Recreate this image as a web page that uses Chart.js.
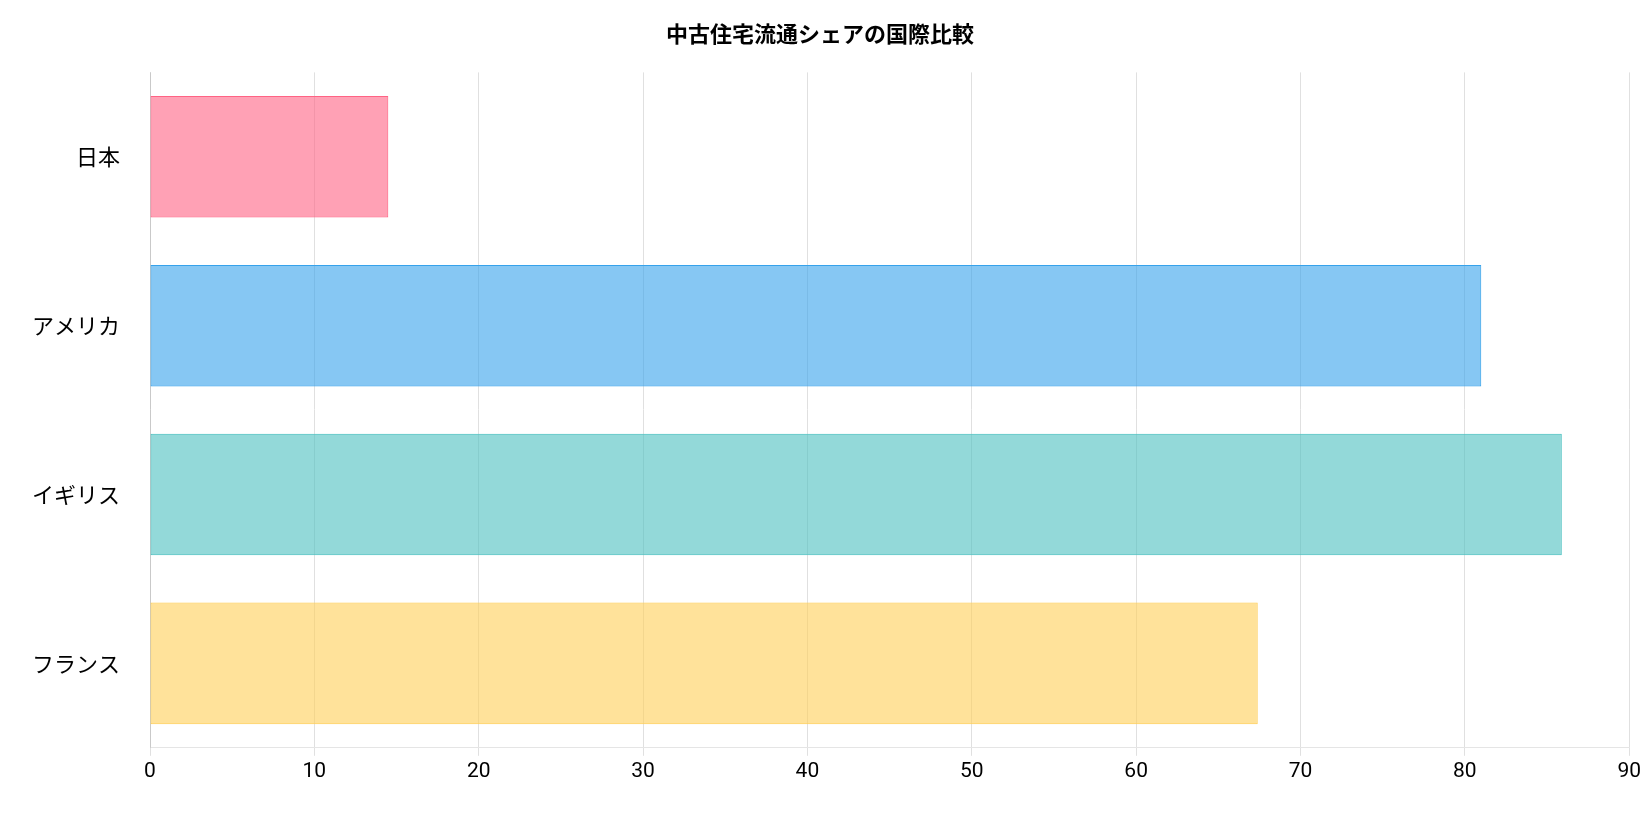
<!DOCTYPE html>
<html lang="ja">
<head>
<meta charset="UTF-8">
<title>中古住宅流通シェアの国際比較</title>
<script src="https://cdn.jsdelivr.net/npm/chart.js"></script>
<style>
  html, body { margin: 0; padding: 0; background: #fff; }
  #wrap { width: 1644px; height: 821px; }
</style>
</head>
<body>
<div id="wrap"><canvas id="chart"></canvas></div>
<script>
const countries = ['日本', 'アメリカ', 'イギリス', 'フランス'];
const shares = [14.5, 81.0, 85.9, 67.4];
const fillColors = ['rgba(255, 99, 132, 0.6)', 'rgba(54, 162, 235, 0.6)', 'rgba(75, 192, 192, 0.6)', 'rgba(255, 206, 86, 0.6)'];
const lineColors = ['rgba(255, 99, 132, 1)', 'rgba(54, 162, 235, 1)', 'rgba(75, 192, 192, 1)', 'rgba(255, 206, 86, 1)'];

Chart.defaults.font.family = "Roboto, 'Noto Sans CJK JP', sans-serif";

new Chart(document.getElementById('chart'), {
    type: 'bar',
    data: {
        labels: countries,
        datasets: [{
            label: '中古住宅流通シェア',
            data: shares,
            backgroundColor: fillColors,
            borderColor: lineColors,
            borderWidth: 1,
            borderSkipped: false
        }]
    },
    options: {
        indexAxis: 'y',
        responsive: true,
        maintainAspectRatio: false,
        animation: false,
        layout: { padding: { right: 14, left: 10, bottom: 34 } },
        plugins: {
            legend: { display: false },
            title: {
                display: true,
                text: '中古住宅流通シェアの国際比較',
                color: '#000',
                font: { size: 22, weight: 'bold', family: "'Noto Sans CJK JP', sans-serif" },
                padding: { top: 20, bottom: 26 }
            }
        },
        scales: {
            x: {
                min: 0,
                max: 90,
                ticks: { stepSize: 10, color: '#000', font: { size: 21 } },
                grid: { color: '#e0e0e0' }
            },
            y: {
                ticks: { color: '#000', padding: 22, font: { size: 22, family: "'Noto Sans CJK JP', sans-serif" } },
                grid: { display: false }
            }
        }
    }
});
</script>
</body>
</html>
